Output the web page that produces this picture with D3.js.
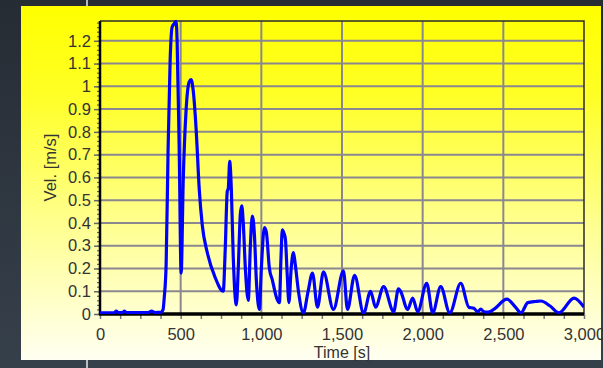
<!DOCTYPE html>
<html>
<head>
<meta charset="utf-8">
<script src="https://cdn.jsdelivr.net/npm/d3@7"></script>
<style>
  html, body { margin: 0; padding: 0; background: #272e36; }
  svg { display: block; }
  text { font-family: "Liberation Sans", Arial, sans-serif; fill: #333; }
</style>
</head>
<body>
<figure id="chart" style="margin:0"></figure>
<script>
// values
const times = [0, 50, 90, 100, 115, 140, 150, 165, 300, 320, 340, 380, 391, 398, 410, 422, 435, 447, 460, 472, 478, 491, 503,
  516, 534, 553, 565, 578, 596, 615, 634, 665, 714, 764, 776, 789, 795, 804, 814, 826, 845, 857, 870, 879, 888, 901, 919,
  932, 944, 957, 969, 988, 1000, 1019, 1031, 1050, 1068, 1095, 1112, 1122, 1130, 1140, 1149, 1160, 1171, 1185, 1199, 1210,
  1230, 1261, 1290, 1317, 1348, 1385, 1447, 1509, 1534, 1578, 1634, 1677, 1708, 1758, 1820, 1850, 1863, 1907, 1938, 1969,
  2025, 2062, 2112, 2168, 2236, 2286, 2317, 2342, 2360, 2379, 2404, 2441, 2522, 2575, 2609, 2652, 2700, 2733, 2790, 2845,
  2938, 3000];
const vels = [0.005, 0.005, 0.006, 0.013, 0.006, 0.006, 0.013, 0.006, 0.006, 0.013, 0.006, 0.008, 0.02, 0.07, 0.22, 0.72,
  1.12, 1.26, 1.275, 1.285, 1.2, 0.72, 0.18, 0.59, 0.9, 1.02, 1.03, 0.98, 0.81, 0.55, 0.39, 0.27, 0.16, 0.1, 0.28, 0.54, 0.55,
  0.67, 0.55, 0.25, 0.04, 0.2, 0.44, 0.475, 0.4, 0.2, 0.06, 0.3, 0.43, 0.35, 0.15, 0.02, 0.2, 0.38, 0.36, 0.2, 0.15, 0.07,
  0.05, 0.25, 0.37, 0.355, 0.33, 0.18, 0.05, 0.2, 0.27, 0.22, 0.1, 0.005, 0.1, 0.18, 0.03, 0.185, 0.02, 0.19, 0.02, 0.17,
  0.003, 0.1, 0.03, 0.12, 0.01, 0.11, 0.1, 0.02, 0.07, 0.01, 0.135, 0.005, 0.12, 0.005, 0.135, 0.03, 0.025, 0.01, 0.022,
  0.01, 0.008, 0.02, 0.065, 0.03, 0.005, 0.05, 0.055, 0.057, 0.035, 0.005, 0.07, 0.03];
const xTicks = [0, 500, 1000, 1500, 2000, 2500, 3000];
const yTicks = [0, 0.1, 0.2, 0.3, 0.4, 0.5, 0.6, 0.7, 0.8, 0.9, 1, 1.1, 1.2];

const W = 603, H = 368;
const plot = { left: 100, right: 584, top: 21, bottom: 314 };

const svg = d3.select('figure#chart')
  .append("svg")
  .attr("width", W)
  .attr("height", H);

const defs = svg.append("defs");
const bgGrad = defs.append("linearGradient").attr("id", "bg").attr("x1", 0).attr("y1", 0).attr("x2", 0).attr("y2", 1);
bgGrad.append("stop").attr("offset", "0%").attr("stop-color", "#262c34");
bgGrad.append("stop").attr("offset", "100%").attr("stop-color", "#36404b");

const yel = defs.append("linearGradient").attr("id", "yel")
  .attr("gradientUnits", "userSpaceOnUse").attr("x1", 0).attr("y1", 6).attr("x2", 0).attr("y2", 360);
yel.append("stop").attr("offset", "0%").attr("stop-color", "#ffff00");
yel.append("stop").attr("offset", "25%").attr("stop-color", "#ffff26");
yel.append("stop").attr("offset", "60%").attr("stop-color", "#ffff8c");
yel.append("stop").attr("offset", "100%").attr("stop-color", "#fffff2");

defs.append("clipPath").attr("id", "clip")
  .append("rect")
  .attr("x", plot.left).attr("y", plot.top - 2)
  .attr("width", plot.right - plot.left).attr("height", plot.bottom - plot.top + 2);

// background + panel
svg.append("rect").attr("width", W).attr("height", H).attr("fill", "url(#bg)");
svg.append("rect").attr("x", 21).attr("y", 6).attr("width", 580).attr("height", 354).attr("fill", "url(#yel)");
svg.append("line").attr("x1", 87).attr("x2", 87).attr("y1", 0).attr("y2", 6).attr("stroke", "#e8e8e8").attr("stroke-width", 1.5);
svg.append("line").attr("x1", 87).attr("x2", 87).attr("y1", 360).attr("y2", H).attr("stroke", "#e8e8e8").attr("stroke-width", 1.5);

const x = d3.scaleLinear().domain([0, 3000]).range([plot.left, plot.right]);
const y = d3.scaleLinear().domain([0, 1.287]).range([plot.bottom, plot.top]);

// grid
svg.append("g")
  .selectAll("line")
  .data(yTicks.slice(1))
  .enter()
  .append("line")
  .attr("x1", plot.left).attr("x2", plot.right)
  .attr("y1", d => y(d)).attr("y2", d => y(d))
  .attr("stroke", "#8a8790").attr("stroke-width", 2);

svg.append("g")
  .selectAll("line")
  .data(xTicks.slice(1, -1))
  .enter()
  .append("line")
  .attr("x1", d => x(d)).attr("x2", d => x(d))
  .attr("y1", plot.top).attr("y2", plot.bottom)
  .attr("stroke", "#8a8790").attr("stroke-width", 2);

// frame top / right
svg.append("path")
  .attr("d", `M${plot.left},${plot.top}H${plot.right}V${plot.bottom}`)
  .attr("fill", "none").attr("stroke", "#2b2b2b").attr("stroke-width", 1.5);

// x axis
const xAxis = svg.append("g")
  .attr("transform", `translate(0,${plot.bottom})`)
  .call(d3.axisBottom(x).tickValues(d3.range(0, 3001, 125)).tickSize(5).tickFormat(""));
xAxis.select(".domain").remove();
xAxis.selectAll("line").attr("stroke", "#777").attr("stroke-width", 1.5);

svg.append("g")
  .attr("transform", `translate(0,${plot.bottom})`)
  .call(d3.axisBottom(x).tickValues(xTicks).tickSize(0).tickPadding(14).tickFormat(d3.format(",")))
  .call(g => g.select(".domain").remove())
  .selectAll("text")
  .style("font-size", "16.5px")
  .attr("fill", "#333");

// y axis
const yAxis = svg.append("g")
  .attr("transform", `translate(${plot.left},0)`)
  .call(d3.axisLeft(y).tickValues(d3.range(0, 1.287, 0.02)).tickSize(3).tickFormat(""));
yAxis.select(".domain").remove();
yAxis.selectAll("line").attr("stroke", "#666").attr("stroke-width", 1.2);

svg.append("g")
  .attr("transform", `translate(${plot.left},0)`)
  .call(d3.axisLeft(y).tickValues(yTicks).tickSize(6).tickPadding(3).tickFormat(d3.format("~g")))
  .call(g => g.select(".domain").remove())
  .call(g => g.selectAll("line").attr("stroke", "#666").attr("stroke-width", 1.5))
  .selectAll("text")
  .style("font-size", "16.5px")
  .attr("fill", "#333");

// axis lines
svg.append("line")
  .attr("x1", plot.left).attr("x2", plot.left)
  .attr("y1", plot.top).attr("y2", plot.bottom + 1)
  .attr("stroke", "#000").attr("stroke-width", 2.5);
svg.append("line")
  .attr("x1", plot.left - 1).attr("x2", plot.right)
  .attr("y1", plot.bottom).attr("y2", plot.bottom)
  .attr("stroke", "#000").attr("stroke-width", 3.5);

// series
const data = times.map((t, i) => ({ t: t, v: vels[i] }));
svg.append("path")
  .datum(data)
  .attr("clip-path", "url(#clip)")
  .attr("fill", "none")
  .attr("stroke", "#0000ff")
  .attr("stroke-width", 3.2)
  .attr("stroke-linejoin", "round")
  .attr("d", d3.line().x(d => x(d.t)).y(d => y(d.v)).curve(d3.curveMonotoneX));

// titles
svg.append("text")
  .attr("x", x(1500)).attr("y", 358)
  .attr("text-anchor", "middle")
  .style("font-size", "16px")
  .text("Time [s]");

svg.append("text")
  .attr("transform", `translate(56,${(plot.top + plot.bottom) / 2}) rotate(-90)`)
  .attr("text-anchor", "middle")
  .style("font-size", "16.5px")
  .text("Vel. [m/s]");
</script>
</body>
</html>
